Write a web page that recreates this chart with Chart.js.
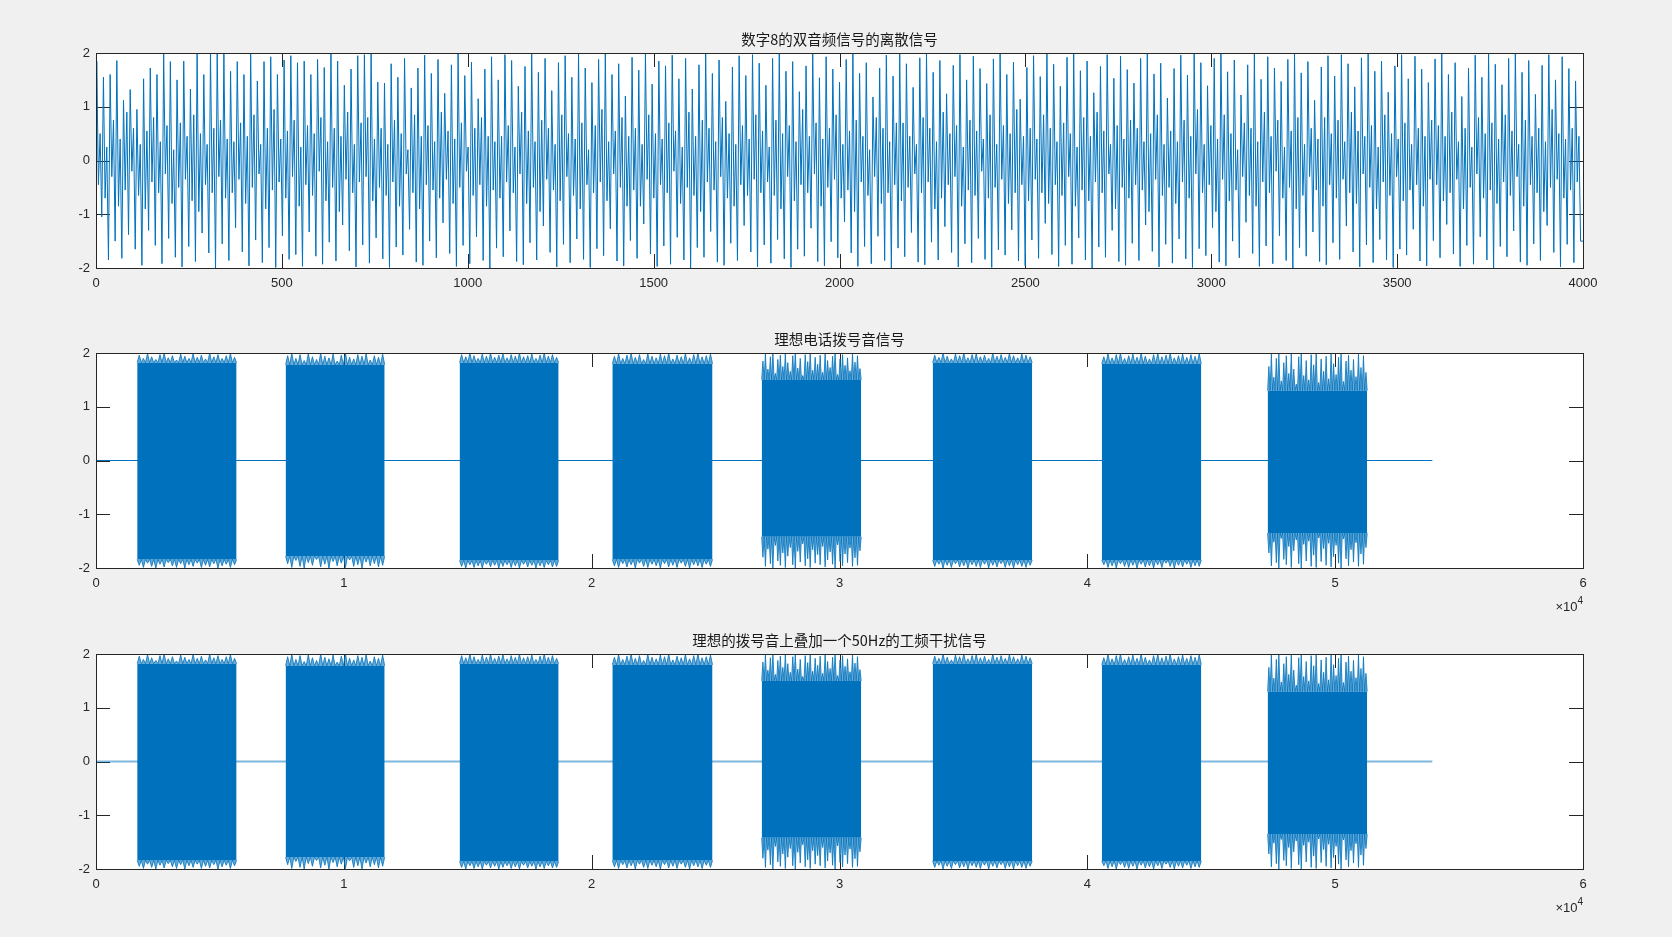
<!DOCTYPE html>
<html>
<head>
<meta charset="utf-8">
<script src="https://cdn.jsdelivr.net/npm/chart.js@4.4.1/dist/chart.umd.min.js"></script>
<style>
  body { margin: 0; background: #f0f0f0; width: 1672px; height: 937px; overflow: hidden; position: relative; }
  canvas { position: absolute; left: 0; }
</style>
</head>
<body>
<canvas id="dtmf8" style="top:0px" width="1672" height="310"></canvas>
<canvas id="dialTone" style="top:300px" width="1672" height="330"></canvas>
<canvas id="dialNoise" style="top:601px" width="1672" height="336"></canvas>
<script>
// ---- data ----
const titles = ["数字8的双音频信号的离散信号", "理想电话拨号音信号", "理想的拨号音上叠加一个50Hz的工频干扰信号"];

// plot 1: per 18-sample stretch the line goes top spike -> small dip -> small bump -> bottom spike
const peakSpacing = 18;
const firstPeakAt = 2;
const stepOffsets = [0, 4.5, 9, 13.5];
const lastSample = -1.5;
const peakTops = [
  1.85,1.55,1.60,1.86,1.12,1.32,0.95,1.52,1.72,1.60,1.98,1.84,1.50,1.85,1.33,1.98,1.60,2.00,1.99,1.98,
  1.66,1.84,1.60,2.00,1.48,1.84,1.93,1.60,1.87,1.95,1.82,1.85,1.60,1.88,1.73,1.98,1.85,1.40,1.70,1.95,
  1.97,2.00,1.46,1.44,1.80,1.55,1.90,1.35,1.72,1.96,1.62,1.88,1.25,1.78,1.99,1.58,1.83,1.15,1.70,1.93,
  1.50,1.97,1.86,1.38,1.75,1.98,1.64,1.90,1.30,1.82,1.95,1.55,1.99,1.72,1.45,1.88,2.00,1.60,1.80,1.20,
  1.92,1.68,1.98,1.42,1.85,1.76,1.96,1.52,1.90,1.33,1.78,1.99,1.62,1.87,1.10,1.74,1.95,1.58,1.97,1.81,
  1.40,1.90,1.99,1.66,1.84,1.28,1.76,1.98,1.54,1.93,1.70,1.46,1.88,2.00,1.62,1.82,1.18,1.72,1.96,1.57,
  1.98,1.80,1.36,1.91,1.99,1.64,1.86,1.24,1.77,1.97,1.50,1.94,1.71,1.43,1.89,2.00,1.60,1.83,1.14,1.73,
  1.95,1.56,1.99,1.79,1.38,1.92,1.98,1.67,1.85,1.26,1.75,1.97,1.53,1.94,1.69,1.44,1.90,2.00,1.61,1.81,
  1.16,1.71,1.96,1.59,1.98,1.82,1.39,1.90,1.99,1.65,1.87,1.22,1.78,1.98,1.51,1.93,1.72,1.47,1.88,2.00,
  1.63,1.84,1.12,1.74,1.95,1.57,1.97,1.80,1.37,1.91,1.99,1.66,1.85,1.27,1.76,1.97,1.52,1.94,1.70,1.45,
  1.89,2.00,1.60,1.82,1.19,1.72,1.96,1.55,1.98,1.79,1.41,1.90,1.99,1.64,1.86,1.23,1.77,1.97,1.50,1.93,
  1.71,1.48
];
const peakDips = [
  -0.45,-0.70,-0.30,-0.85,-0.55,-0.20,-0.65,-0.90,-0.40,-0.60,-0.25,-0.80,-0.50,-0.35,-0.75,-0.95,-0.45,-0.60,-0.30,-0.70,
  -0.60,-0.35,-0.80,-0.50,-0.25,-0.90,-0.55,-0.40,-0.70,-0.30,-0.85,-0.45,-0.65,-0.20,-0.75,-0.50,-0.95,-0.35,-0.60,-0.40,
  -0.30,-0.75,-0.50,-0.65,-0.40,-0.85,-0.25,-0.60,-0.90,-0.45,-0.55,-0.70,-0.35,-0.80,-0.50,-0.20,-0.65,-0.45,-0.85,-0.55,
  -0.70,-0.40,-0.60,-0.25,-0.80,-0.50,-0.95,-0.35,-0.55,-0.75,-0.30,-0.65,-0.90,-0.45,-0.60,-0.40,-0.75,-0.25,-0.50,-0.85,
  -0.55,-0.85,-0.35,-0.70,-0.45,-0.60,-0.20,-0.80,-0.50,-0.65,-0.95,-0.40,-0.55,-0.30,-0.70,-0.85,-0.45,-0.65,-0.35,-0.60,
  -0.40,-0.65,-0.90,-0.30,-0.75,-0.45,-0.60,-0.25,-0.85,-0.50,-0.35,-0.70,-0.55,-0.95,-0.40,-0.65,-0.30,-0.80,-0.60,-0.45,
  -0.75,-0.50,-0.25,-0.60,-0.40,-0.90,-0.70,-0.45,-0.30,-0.85,-0.55,-0.65,-0.20,-0.70,-0.50,-0.35,-0.80,-0.60,-0.45,-0.75,
  -0.35,-0.60,-0.80,-0.45,-0.65,-0.30,-0.85,-0.55,-0.75,-0.40,-0.60,-0.25,-0.90,-0.50,-0.70,-0.45,-0.55,-0.95,-0.35,-0.65,
  -0.50,-0.80,-0.40,-0.70,-0.25,-0.60,-0.45,-0.95,-0.35,-0.75,-0.55,-0.30,-0.65,-0.85,-0.40,-0.60,-0.20,-0.70,-0.50,-0.90,
  -0.65,-0.30,-0.55,-0.85,-0.45,-0.70,-0.35,-0.60,-0.80,-0.25,-0.50,-0.90,-0.40,-0.65,-0.30,-0.75,-0.55,-0.45,-0.85,-0.35,
  -0.45,-0.75,-0.60,-0.35,-0.90,-0.50,-0.25,-0.70,-0.55,-0.80,-0.40,-0.65,-0.30,-0.85,-0.45,-0.60,-0.95,-0.50,-0.35,-0.70,
  -0.55,-0.40
];
const peakBumps = [
  0.50,0.25,0.75,0.40,0.90,0.60,0.30,0.55,0.80,0.35,0.65,0.20,0.70,0.45,0.85,0.50,0.30,0.60,0.75,0.40,
  0.35,0.70,0.45,0.85,0.30,0.60,0.95,0.40,0.55,0.75,0.25,0.65,0.50,0.80,0.35,0.60,0.45,0.90,0.30,0.70,
  0.80,0.40,0.60,0.30,0.75,0.50,0.20,0.85,0.45,0.65,0.35,0.90,0.55,0.40,0.70,0.25,0.60,0.80,0.45,0.35,
  0.45,0.65,0.25,0.90,0.55,0.35,0.75,0.60,0.30,0.85,0.50,0.40,0.70,0.20,0.65,0.95,0.35,0.55,0.80,0.45,
  0.60,0.30,0.85,0.50,0.40,0.70,0.55,0.25,0.90,0.45,0.75,0.60,0.35,0.80,0.50,0.30,0.65,0.40,0.85,0.55,
  0.25,0.75,0.50,0.65,0.35,0.95,0.45,0.70,0.40,0.60,0.85,0.30,0.55,0.75,0.45,0.20,0.80,0.60,0.35,0.70,
  0.70,0.45,0.30,0.80,0.60,0.35,0.90,0.50,0.65,0.25,0.75,0.55,0.40,0.85,0.30,0.65,0.50,0.95,0.45,0.60,
  0.40,0.85,0.60,0.35,0.70,0.50,0.25,0.80,0.45,0.90,0.55,0.30,0.65,0.40,0.75,0.60,0.35,0.50,0.85,0.30,
  0.55,0.35,0.75,0.45,0.95,0.30,0.65,0.40,0.85,0.50,0.20,0.70,0.60,0.35,0.90,0.45,0.75,0.25,0.55,0.80,
  0.30,0.60,0.40,0.80,0.50,0.75,0.35,0.90,0.55,0.45,0.65,0.25,0.85,0.50,0.40,0.70,0.30,0.60,0.45,0.75,
  0.65,0.45,0.90,0.35,0.60,0.25,0.80,0.50,0.70,0.40,0.85,0.55,0.30,0.75,0.45,0.60,0.35,0.95,0.50,0.40,
  0.60,0.45
];
const peakBottoms = [
  -1.05,-1.85,-1.50,-1.82,-1.38,-1.65,-1.95,-1.30,-1.58,-1.92,-1.45,-1.80,-1.98,-1.60,-1.88,-1.35,-1.72,-2.00,-1.55,-1.86,
  -1.25,-1.70,-1.96,-1.48,-1.90,-1.62,-1.99,-1.40,-1.84,-1.75,-1.97,-1.33,-1.78,-1.93,-1.52,-1.87,-1.20,-1.68,-1.98,-1.57,
  -1.91,-1.44,-1.83,-1.99,-1.61,-1.76,-1.28,-1.89,-1.95,-1.50,-1.81,-1.16,-1.73,-1.97,-1.58,-1.92,-1.42,-1.86,-2.00,-1.63,
  -1.79,-1.31,-1.88,-1.94,-1.53,-1.85,-1.22,-1.71,-1.98,-1.56,-1.90,-1.46,-1.84,-1.99,-1.64,-1.77,-1.27,-1.87,-1.96,-1.49,
  -1.82,-1.18,-1.74,-1.97,-1.59,-1.93,-1.43,-1.85,-2.00,-1.62,-1.80,-1.32,-1.89,-1.95,-1.54,-1.86,-1.21,-1.70,-1.98,-1.57,
  -1.91,-1.47,-1.83,-1.99,-1.65,-1.78,-1.26,-1.88,-1.96,-1.51,-1.81,-1.14,-1.72,-1.97,-1.60,-1.92,-1.41,-1.86,-2.00,-1.63,
  -1.79,-1.34,-1.89,-1.94,-1.52,-1.85,-1.23,-1.71,-1.98,-1.55,-1.90,-1.45,-1.84,-1.99,-1.66,-1.76,-1.29,-1.87,-1.96,-1.48,
  -1.82,-1.17,-1.75,-1.97,-1.58,-1.93,-1.44,-1.85,-2.00,-1.61,-1.80,-1.30,-1.88,-1.95,-1.54,-1.86,-1.20,-1.69,-1.98,-1.56,
  -1.91,-1.46,-1.83,-1.99,-1.64,-1.77,-1.25,-1.89,-1.96,-1.50,-1.81,-1.15,-1.73,-1.97,-1.59,-1.92,-1.40,-1.86,-2.00,-1.62,
  -1.78,-1.33,-1.88,-1.94,-1.53,-1.84,-1.22,-1.70,-1.98,-1.57,-1.90,-1.47,-1.85,-1.99,-1.65,-1.76,-1.28,-1.87,-1.96,-1.49,
  -1.81,-1.19,-1.74,-1.97,-1.58,-1.93,-1.42,-1.85,-2.00,-1.60,-1.79,-1.31,-1.89,-1.95,-1.55,-1.86,-1.21,-1.71,-1.98,-1.56,
  -1.90,-1.50
];

// plots 2 and 3: eight tone bursts (sample index), dense core and spiky fringe
const burstStarts = [1662, 7650, 14670, 20834, 26860, 33760, 40582, 47275];
const burstEnds   = [5673, 11648, 18668, 24877, 30876, 37776, 44598, 51292];
const coreTops    = [1.82, 1.78, 1.82, 1.80, 1.50, 1.82, 1.80, 1.30];
const coreBottoms = [-1.84, -1.78, -1.86, -1.84, -1.42, -1.85, -1.85, -1.35];
const fringeTops = [
  [1.96,1.90,1.99,1.93,1.88,1.97,2.00,1.91,1.95,1.87,1.98,1.94,1.90,1.99,1.92,1.96,1.89,2.00,1.93,1.97,1.90,1.95,1.99,1.92],
  [1.95,2.00,1.90,1.97,1.86,1.99,1.93,1.88,2.00,1.94,1.91,1.98,1.85,1.96,2.00,1.92,1.89,1.97,1.94,1.99,1.87,1.95,1.92,1.98],
  [1.97,1.93,2.00,1.95,1.90,1.98,1.94,2.00,1.92,1.96,1.99,1.91,1.97,1.94,2.00,1.93,1.95,1.98,1.90,1.96,2.00,1.94,1.97,1.92],
  [1.94,1.99,1.90,1.96,2.00,1.92,1.97,1.88,1.99,1.94,1.91,1.98,1.95,2.00,1.89,1.96,1.93,1.99,1.91,1.97,2.00,1.93,1.95,1.98],
  [1.85,1.98,1.70,1.93,2.00,1.62,1.88,1.96,1.75,1.99,1.82,1.66,1.95,2.00,1.72,1.90,1.58,1.97,1.84,2.00,
   1.68,1.92,1.79,1.96,1.64,1.99,1.86,1.73,1.94,2.00,1.60,1.89,1.97,1.77,1.91,1.67,1.98,1.83,1.95,1.71],
  [1.96,1.92,2.00,1.94,1.89,1.98,1.95,2.00,1.91,1.97,1.99,1.93,1.96,1.90,2.00,1.94,1.97,1.92,1.99,1.95,1.91,1.98,1.96,1.93],
  [1.93,1.99,1.91,1.97,2.00,1.90,1.95,1.98,1.92,2.00,1.94,1.89,1.97,1.99,1.93,1.96,2.00,1.91,1.95,1.98,1.92,1.97,1.94,1.99],
  [1.75,1.98,1.55,1.90,2.00,1.48,1.82,1.95,1.62,1.99,1.70,1.42,1.93,2.00,1.58,1.86,1.50,1.97,1.78,2.00,
   1.45,1.89,1.66,1.94,1.52,1.99,1.80,1.60,1.92,2.00,1.47,1.85,1.96,1.68,1.88,1.56,1.98,1.73,1.95,1.64]
];
const fringeBottoms = [
  [-1.95,-1.99,-1.91,-1.97,-2.00,-1.93,-1.98,-1.90,-1.96,-1.99,-1.92,-2.00,-1.94,-1.97,-1.91,-1.99,-1.95,-1.98,-1.92,-2.00,-1.96,-1.93,-1.99,-1.94],
  [-1.92,-1.99,-1.86,-1.97,-2.00,-1.90,-1.95,-1.84,-1.98,-1.93,-2.00,-1.88,-1.96,-1.91,-1.99,-1.85,-1.97,-1.94,-2.00,-1.89,-1.96,-1.92,-1.98,-1.95],
  [-1.97,-2.00,-1.94,-1.99,-1.96,-2.00,-1.93,-1.98,-1.95,-2.00,-1.97,-1.94,-1.99,-1.96,-2.00,-1.93,-1.98,-1.95,-2.00,-1.96,-1.99,-1.94,-1.98,-1.97],
  [-1.96,-1.99,-1.92,-1.98,-1.94,-2.00,-1.91,-1.97,-1.99,-1.93,-1.96,-2.00,-1.92,-1.98,-1.95,-1.99,-1.91,-1.97,-2.00,-1.94,-1.96,-1.99,-1.93,-1.97],
  [-1.80,-1.97,-1.65,-1.92,-2.00,-1.58,-1.87,-1.95,-1.72,-1.99,-1.78,-1.62,-1.94,-2.00,-1.69,-1.89,-1.55,-1.96,-1.83,-1.99,
   -1.66,-1.91,-1.75,-1.94,-1.60,-1.98,-1.85,-1.70,-1.93,-2.00,-1.57,-1.88,-1.96,-1.74,-1.90,-1.63,-1.97,-1.81,-1.95,-1.68],
  [-1.97,-1.93,-2.00,-1.95,-1.99,-1.92,-1.98,-1.96,-2.00,-1.94,-1.97,-1.99,-1.93,-2.00,-1.95,-1.98,-1.92,-1.99,-1.96,-2.00,-1.94,-1.97,-1.99,-1.95],
  [-1.94,-1.99,-1.96,-2.00,-1.92,-1.97,-1.99,-1.95,-2.00,-1.93,-1.98,-1.96,-2.00,-1.94,-1.99,-1.91,-1.97,-2.00,-1.95,-1.98,-1.93,-1.99,-1.96,-1.97],
  [-1.72,-1.96,-1.52,-1.90,-2.00,-1.45,-1.84,-1.94,-1.60,-1.99,-1.68,-1.48,-1.92,-2.00,-1.56,-1.87,-1.50,-1.97,-1.76,-1.99,
   -1.44,-1.88,-1.64,-1.95,-1.54,-1.98,-1.79,-1.58,-1.91,-2.00,-1.46,-1.83,-1.96,-1.66,-1.89,-1.53,-1.97,-1.74,-1.93,-1.62]
];
const zeroLineEnd = 53920;

const xTicks1 = { max: 4000, step: 500 };
const xTicks23 = { max: 60000, step: 10000, exponent: 4 };
const yTicks = { min: -2, max: 2, step: 1 };

// ---- styling ----
const BLUE = "rgb(0,114,189)";
const AXIS = "#262626";
const TICK_FONT = { family: "'Liberation Sans', Arial, Helvetica, sans-serif", size: 13 };
const TITLE_FONT = "14.5px 'Noto Sans CJK SC', sans-serif";

const matlabAxes = {
  id: "matlabAxes",
  beforeDraw(chart) {
    const a = chart.chartArea, ctx = chart.ctx;
    ctx.save();
    ctx.fillStyle = "#ffffff";
    ctx.fillRect(a.left, a.top, a.right - a.left, a.bottom - a.top);
    ctx.restore();
  },
  beforeDatasetsDraw(chart) {
    const a = chart.chartArea, ctx = chart.ctx, len = 14;
    ctx.save();
    ctx.strokeStyle = AXIS;
    ctx.lineWidth = 1;
    ctx.beginPath();
    chart.scales.x.ticks.forEach(t => {
      const px = Math.round(chart.scales.x.getPixelForValue(t.value)) + 0.5;
      ctx.moveTo(px, a.bottom); ctx.lineTo(px, a.bottom - len);
      ctx.moveTo(px, a.top); ctx.lineTo(px, a.top + len);
    });
    chart.scales.y.ticks.forEach(t => {
      const py = Math.round(chart.scales.y.getPixelForValue(t.value)) + 0.5;
      ctx.moveTo(a.left, py); ctx.lineTo(a.left + len, py);
      ctx.moveTo(a.right, py); ctx.lineTo(a.right - len, py);
    });
    ctx.stroke();
    ctx.restore();
  },
  afterDatasetsDraw(chart) {
    const a = chart.chartArea, ctx = chart.ctx;
    ctx.save();
    ctx.strokeStyle = AXIS;
    ctx.lineWidth = 1;
    ctx.strokeRect(Math.round(a.left) + 0.5, Math.round(a.top) + 0.5,
                   Math.round(a.right - a.left), Math.round(a.bottom - a.top));
    ctx.restore();
  },
  afterDraw(chart, args, opts) {
    const a = chart.chartArea, ctx = chart.ctx;
    ctx.save();
    ctx.fillStyle = "#1a1a1a";
    ctx.font = TITLE_FONT;
    ctx.textAlign = "center";
    ctx.textBaseline = "middle";
    ctx.fillText(opts.title, (a.left + a.right) / 2, a.top - 13.5);
    if (opts.exponent) {
      ctx.fillStyle = AXIS;
      ctx.textAlign = "right";
      ctx.font = "10px 'Liberation Sans', Arial, sans-serif";
      ctx.fillText(String(opts.exponent), a.right, a.bottom + 33);
      const w4 = ctx.measureText(String(opts.exponent)).width;
      ctx.font = "13px 'Liberation Sans', Arial, sans-serif";
      ctx.fillText("×10", a.right - w4, a.bottom + 39);
    }
    ctx.restore();
  }
};

function makeChart(id, datasets, xt, title, canvasH) {
  return new Chart(document.getElementById(id), {
    type: "line",
    data: { datasets },
    options: {
      responsive: false,
      devicePixelRatio: 1,
      animation: false,
      events: [],
      layout: { padding: { top: 53, left: 0, right: 89, bottom: canvasH - 268 - 30 } },
      elements: { point: { radius: 0 }, line: { tension: 0 } },
      plugins: {
        legend: { display: false },
        tooltip: { enabled: false },
        matlabAxes: { title, exponent: xt.exponent }
      },
      scales: {
        x: {
          type: "linear", min: 0, max: xt.max,
          grid: { display: false, drawTicks: false }, border: { display: false },
          ticks: {
            stepSize: xt.step, autoSkip: false, maxRotation: 0, padding: 8,
            color: AXIS, font: TICK_FONT,
            callback: v => xt.exponent ? String(v / Math.pow(10, xt.exponent)) : String(v)
          },
          afterFit: s => { s.height = 30; }
        },
        y: {
          min: yTicks.min, max: yTicks.max,
          grid: { display: false, drawTicks: false }, border: { display: false },
          ticks: { stepSize: yTicks.step, padding: 6, color: AXIS, font: TICK_FONT },
          afterFit: s => { s.width = 96; }
        }
      }
    },
    plugins: [matlabAxes]
  });
}

// plot 1 line
const tonePoints = [{ x: 1, y: 0 }];
peakTops.forEach((v, k) => {
  const base = firstPeakAt + k * peakSpacing;
  [v, peakDips[k], peakBumps[k], peakBottoms[k]].forEach((y, j) => {
    tonePoints.push({ x: base + stepOffsets[j], y });
  });
});
tonePoints.push({ x: 4000, y: lastSample });

makeChart("dtmf8", [{
  data: tonePoints, borderColor: BLUE, borderWidth: 1, fill: false
}], xTicks1, titles[0], 310);

// plots 2 and 3 bursts
function burstDatasets(zeroStyle) {
  const sets = [];
  burstStarts.forEach((s, b) => {
    const e = burstEnds[b];
    sets.push({
      data: [{ x: s, y: coreTops[b] }, { x: e, y: coreTops[b] }],
      borderColor: BLUE, borderWidth: 0, backgroundColor: BLUE,
      fill: { value: coreBottoms[b] }, order: 0
    });
    [[fringeTops[b], coreTops[b]], [fringeBottoms[b], coreBottoms[b]]].forEach(([spikes, core]) => {
      const n = spikes.length, w = (e - s) / n;
      const pts = [];
      spikes.forEach((v, i) => {
        pts.push({ x: s + i * w, y: core });
        pts.push({ x: s + (i + 0.5) * w, y: v });
      });
      pts.push({ x: e, y: core });
      sets.push({
        data: pts, borderColor: "rgba(0,114,189,0.8)", borderWidth: 1,
        backgroundColor: "rgba(0,114,189,0.6)", fill: { value: core }, order: 1
      });
    });
  });
  sets.push({
    data: [{ x: 1, y: 0 }, { x: zeroLineEnd, y: 0 }],
    borderColor: zeroStyle.color, borderWidth: zeroStyle.width, fill: false, order: 2
  });
  return sets;
}

makeChart("dialTone", burstDatasets({ color: BLUE, width: 1 }), xTicks23, titles[1], 330);
makeChart("dialNoise", burstDatasets({ color: "rgba(0,114,189,0.5)", width: 2 }), xTicks23, titles[2], 336);
</script>
</body>
</html>
